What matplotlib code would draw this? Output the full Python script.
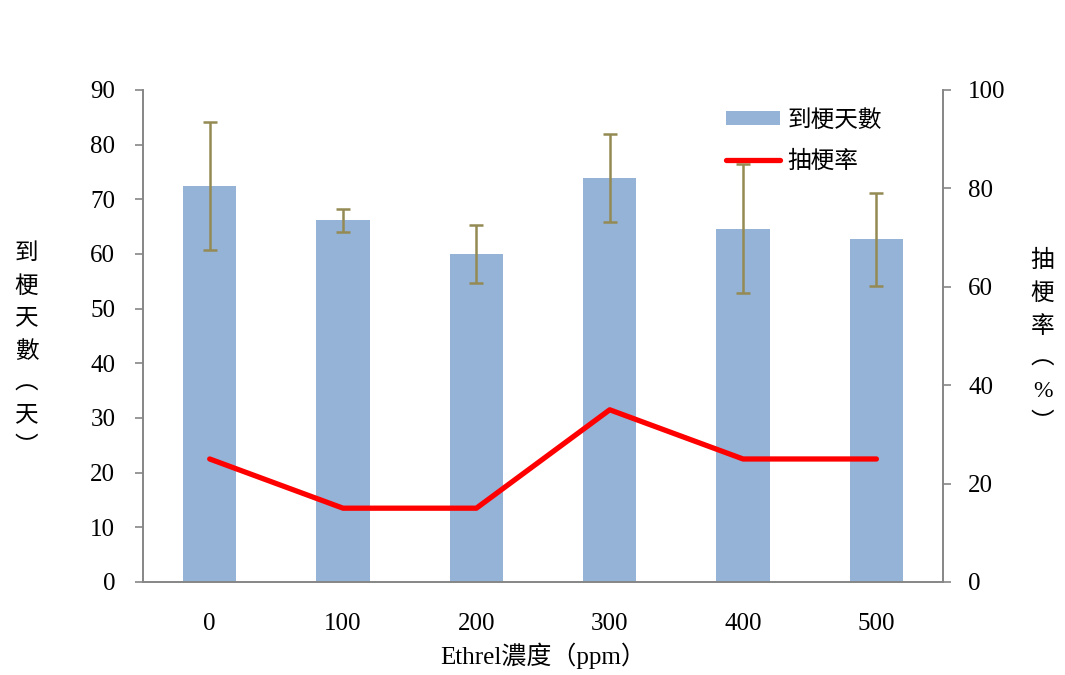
import matplotlib
matplotlib.use("Agg")
import matplotlib.pyplot as plt
import numpy as np

# data
concentrations = ["0", "100", "200", "300", "400", "500"]
days_to_bolt = [72.4, 66.2, 60.0, 73.9, 64.6, 62.7]
days_err = [11.7, 2.1, 5.3, 8.0, 11.8, 8.5]
bolting_rate = [25, 15, 15, 35, 25, 25]

serif_cjk = ["Liberation Serif", "Noto Sans CJK TC"]
plt.rcParams["font.family"] = serif_cjk


def main():
    fig = plt.figure(figsize=(10.65, 6.75), dpi=100)
    ax = fig.add_axes([0.1343, 0.1378, 0.7512, 0.7289])
    ax2 = ax.twinx()

    x = np.arange(len(concentrations))
    ax.bar(x, days_to_bolt, width=0.4, color="#95B3D7", label="到梗天數", zorder=2)
    ax.errorbar(x, days_to_bolt, yerr=days_err, fmt="none", ecolor="#948A54",
                elinewidth=1.8, capsize=5, capthick=1.8, zorder=3)
    ax2.plot(x, bolting_rate, color="#FF0000", linewidth=3.8, label="抽梗率",
             solid_capstyle="round", zorder=4)

    ax.set_xlim(-0.5, len(concentrations) - 0.5)
    ax.set_ylim(0, 90)
    ax.set_yticks(range(0, 91, 10))
    ax2.set_ylim(0, 100)
    ax2.set_yticks(range(0, 101, 20))
    ax.set_xticks(x)
    ax.set_xticklabels(concentrations)

    gray = "#868686"
    for a in (ax, ax2):
        a.spines["top"].set_visible(False)
        for s in ("left", "right", "bottom"):
            a.spines[s].set_color(gray)
            a.spines[s].set_linewidth(1.2)
        a.tick_params(labelsize=18, colors="black")
        a.tick_params(axis="y", color=gray, length=6, width=1.2)
    ax.tick_params(axis="y", pad=14)
    ax2.tick_params(axis="y", pad=12)
    ax.tick_params(axis="x", length=0, pad=22)

    ax.set_xlabel("Ethrel濃度（ppm）", fontsize=18, labelpad=6)
    fig.text(0.025, 0.48, "到\n梗\n天\n數\n︵\n天\n︶", fontsize=17,
             ha="center", va="center", linespacing=1.68)
    fig.text(0.979, 0.494, "抽\n梗\n率\n︵\n%\n︶", fontsize=17,
             ha="center", va="center", linespacing=1.68)

    h1, l1 = ax.get_legend_handles_labels()
    h2, l2 = ax2.get_legend_handles_labels()
    ax2.legend(h1 + h2, l1 + l2, loc="upper left", bbox_to_anchor=(0.702, 1.003),
               frameon=False, fontsize=17, handlelength=2.3, handleheight=0.55,
               labelspacing=0.8, handletextpad=0.3)

    fig.savefig("out.png", dpi=100)


if __name__ == '__main__':
    main()
